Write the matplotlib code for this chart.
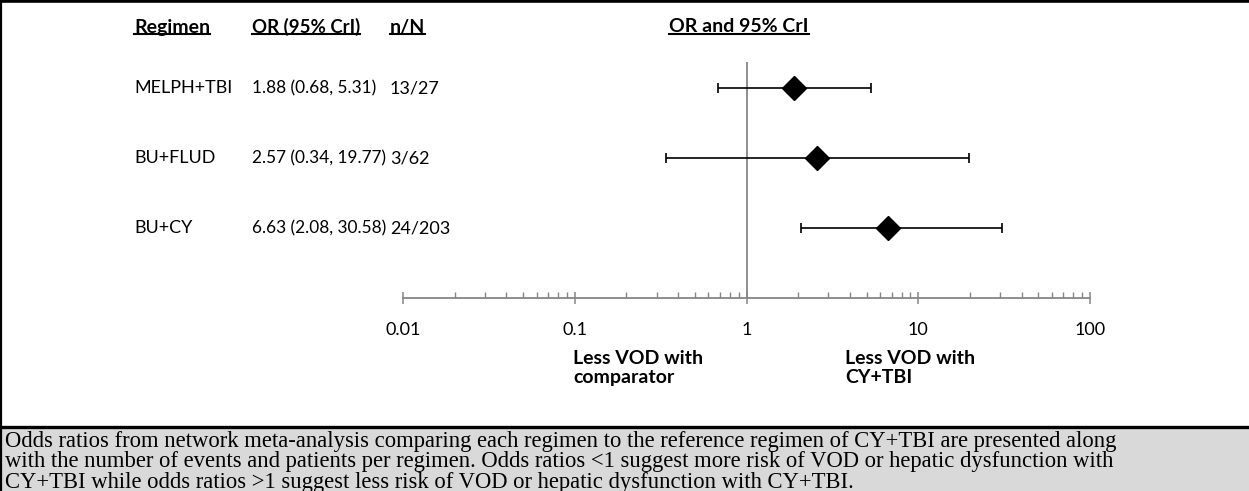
import matplotlib
matplotlib.use("Agg")
import matplotlib.pyplot as plt
from matplotlib.patches import Rectangle
from matplotlib.lines import Line2D

# ---- data ----
regimens = ["MELPH+TBI", "BU+FLUD", "BU+CY"]
odds_ratio = [1.88, 2.57, 6.63]
ci_low = [0.68, 0.34, 2.08]
ci_high = [5.31, 19.77, 30.58]
events = [13, 3, 24]
patients = [27, 62, 203]
tick_values = [0.01, 0.1, 1, 10, 100]
tick_labels = ["0.01", "0.1", "1", "10", "100"]
headers = ["Regimen", "OR (95% CrI)", "n/N", "OR and 95% CrI"]
caption = ("Odds ratios from network meta-analysis comparing each regimen to the reference regimen of CY+TBI are presented along\n"
           "with the number of events and patients per regimen. Odds ratios <1 suggest more risk of VOD or hepatic dysfunction with\n"
           "CY+TBI while odds ratios >1 suggest less risk of VOD or hepatic dysfunction with CY+TBI.")

W, H = 1249, 491
fig = plt.figure(figsize=(W / 100, H / 100), dpi=100)
fig.patch.set_facecolor("white")

SANS = ["Lato", "DejaVu Sans"]
SERIF = ["Liberation Serif", "DejaVu Serif"]
GRAY = "#868686"


def fx(x):
    return x / W


def fy(y):
    return 1 - y / H


# caption band and frame
fig.add_artist(Rectangle((0, 0), 1, fy(427), transform=fig.transFigure,
                         facecolor="#d9d9d9", edgecolor="none", zorder=0))
fig.add_artist(Line2D([0, 1], [fy(426.5), fy(426.5)], transform=fig.transFigure,
                      color="black", lw=2.4, zorder=5))
fig.add_artist(Line2D([0, 1], [fy(1.2), fy(1.2)], transform=fig.transFigure,
                      color="black", lw=2.6))
fig.add_artist(Line2D([fx(1), fx(1)], [0, 1], transform=fig.transFigure,
                      color="black", lw=1.6, zorder=5))

# forest plot axes: log OR scale from 0.01 to 100
x0, x1 = 403, 1090
y_top, y_axis = 62, 298
ax = fig.add_axes([fx(x0), fy(y_axis), fx(x1) - fx(x0), (y_axis - y_top) / H])
ax.set_xscale("log")
ax.set_xlim(tick_values[0], tick_values[-1])
rows = list(range(len(regimens)))
ax.set_ylim(3.0, -0.37)
ax.patch.set_alpha(0)
for s in ["top", "right", "left"]:
    ax.spines[s].set_visible(False)
ax.spines["bottom"].set_color(GRAY)
ax.spines["bottom"].set_linewidth(1.3)
ax.set_yticks([])
ax.set_xticks(tick_values)
ax.set_xticklabels(tick_labels, fontsize=13, family=SANS)
ax.tick_params(axis="x", which="major", direction="inout", length=8, width=1.1,
               color=GRAY, pad=13)
ax.tick_params(axis="x", which="minor", direction="in", length=4.5, width=1.0,
               color=GRAY)
ax.xaxis.set_minor_locator(matplotlib.ticker.LogLocator(base=10, subs=range(2, 10)))
ax.xaxis.set_minor_formatter(matplotlib.ticker.NullFormatter())
ax.axvline(1, color=GRAY, lw=1.3, zorder=1)

xerr = [[o - l for o, l in zip(odds_ratio, ci_low)],
        [h - o for o, h in zip(odds_ratio, ci_high)]]
ax.errorbar(odds_ratio, rows, xerr=xerr, fmt="none", ecolor="black",
            elinewidth=1.2, capsize=3.3, capthick=1.2, zorder=2)
ax.plot(odds_ratio, rows, linestyle="none", marker="D", markersize=12.5,
        color="black", zorder=3)

# table text
col_x = [134, 252, 390]
col_size = [13.0, 12.4, 13.0]
row_y = [88, 158, 228]
for i, name in enumerate(regimens):
    vals = [name,
            f"{odds_ratio[i]:.2f} ({ci_low[i]:.2f}, {ci_high[i]:.2f})",
            f"{events[i]}/{patients[i]}"]
    for cx, fs, v in zip(col_x, col_size, vals):
        fig.text(fx(cx), fy(row_y[i]), v, fontsize=fs, family=SANS,
                 ha="left", va="center")

header_x = col_x + [669]
header_size = [14, 13.4, 14, 14]
header_texts = []
for hx, hs, h in zip(header_x, header_size, headers):
    header_texts.append(fig.text(fx(hx), fy(27), h, fontsize=hs, family=SANS,
                                 fontweight="bold", ha="left", va="center"))

fig.text(fx(573), fy(368), "Less VOD with\ncomparator", fontsize=14,
         family=SANS, fontweight="bold", ha="left", va="center", linespacing=1.15)
fig.text(fx(845), fy(368), "Less VOD with\nCY+TBI", fontsize=14,
         family=SANS, fontweight="bold", ha="left", va="center", linespacing=1.15)

fig.text(fx(5), fy(462), caption, fontsize=16.3, family=SERIF, ha="left",
         va="center", linespacing=0.96)

# underline the header labels
fig.canvas.draw()
renderer = fig.canvas.get_renderer()
inv = fig.transFigure.inverted()
for t in header_texts:
    bb = t.get_window_extent(renderer)
    (ux0, uy0), (ux1, _) = inv.transform([[bb.x0, bb.y0], [bb.x1, bb.y1]])
    fig.add_artist(Line2D([ux0, ux1], [uy0 + 0.004, uy0 + 0.004],
                          transform=fig.transFigure, color="black", lw=1.5))

fig.savefig("out.png", dpi=100)
